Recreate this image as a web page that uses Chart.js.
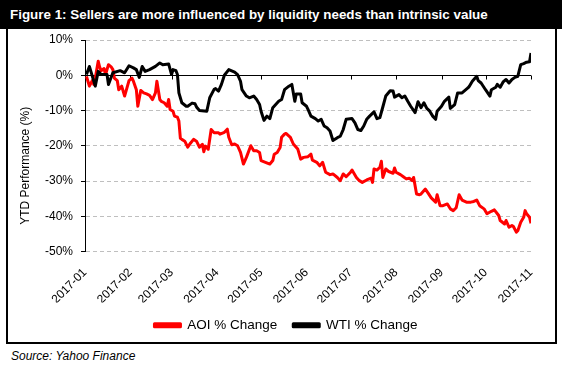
<!DOCTYPE html>
<html>
<head>
<meta charset="utf-8">
<script src="https://cdn.jsdelivr.net/npm/chart.js@4.4.0/dist/chart.umd.min.js"></script>
<style>
html,body{margin:0;padding:0;background:#fff;}
body{width:562px;height:366px;position:relative;overflow:hidden;font-family:"Liberation Sans",Arial,sans-serif;}
#title{position:absolute;left:0;top:0;width:562px;height:29px;background:#000;color:#fff;font-weight:bold;font-size:13.4px;line-height:29px;padding-left:10px;box-sizing:border-box;white-space:nowrap;}
#box{position:absolute;left:6px;top:28px;width:551px;height:316px;border:2px solid #000;border-top:none;box-sizing:border-box;}
#wrap{position:absolute;left:8px;top:29px;width:547px;height:313px;}
#src{position:absolute;left:11px;top:349px;font-style:italic;font-size:12px;color:#000;white-space:nowrap;}
</style>
</head>
<body>
<div id="title">Figure 1: Sellers are more influenced by liquidity needs than intrinsic value</div>
<div id="box"></div>
<div id="wrap"><canvas id="c" width="547" height="313" style="width:547px;height:313px"></canvas></div>
<div id="src">Source: Yahoo Finance</div>
<script>
// Tick labels (month starts)
const monthLabels = ['2017-01','2017-02','2017-03','2017-04','2017-05','2017-06','2017-07','2017-08','2017-09','2017-10','2017-11'];
const yAxisTitle = 'YTD Performance (%)';

// Days since 2017-01-01 and YTD % change
const aoiDays = [1,2,3,5,6,7,9,10,11,13,14,16,18,19,20,22,23,25,27,30,32,33,35,36,38,40,42,44,46,48,49,51,52,54,56,57,58,60,61,63,64,65,66,68,70,72,74,76,78,80,81,82,84,86,88,91,92,95,97,98,100,102,104,106,108,110,113,115,117,119,120,123,126,128,129,131,133,134,136,137,140,142,145,147,149,152,154,155,158,160,162,164,167,169,172,174,176,178,181,182,185,187,189,192,195,196,197,199,201,202,203,205,207,210,211,212,215,217,219,221,223,224,226,228,229,232,234,236,239,240,242,244,247,249,251,253,255,257,260,263,265,267,269,272,274,277,279,282,283,286,287,289,291,292,294,295,297,299,300,301,303,304];
const aoiPct = [-0.3,-1.7,-3.1,-1.5,-2.6,-0.8,4.0,2.3,1.3,1.9,0.2,3.0,2.3,1.6,-0.8,-1.5,-4.1,-3.1,-5.9,-1.5,-0.8,-1.7,-4.1,-8.8,-4.3,-5.0,-5.3,-5.7,-6.9,-5.0,-1.7,-6.9,-7.4,-7.8,-8.8,-6.9,-9.7,-10.2,-11.6,-11.9,-13.0,-17.9,-18.2,-18.7,-20.4,-19.2,-18.2,-18.7,-20.4,-19.6,-21.7,-20.1,-21.0,-15.4,-16.3,-16.3,-16.7,-16.2,-15.3,-17.6,-19.7,-19.5,-20.0,-21.9,-25.2,-23.3,-20.0,-21.4,-21.4,-21.9,-24.2,-24.7,-25.2,-24.2,-22.4,-21.9,-20.5,-17.6,-16.7,-16.5,-17.6,-19.5,-20.9,-23.8,-23.3,-23.1,-22.4,-24.1,-24.7,-25.7,-24.7,-27.5,-28.2,-28.0,-29.0,-29.9,-28.0,-28.8,-27.5,-26.9,-29.0,-29.9,-30.4,-29.7,-29.2,-30.4,-26.6,-26.9,-26.1,-24.4,-29.0,-26.6,-27.3,-27.8,-26.3,-27.5,-28.2,-28.8,-29.4,-29.2,-29.9,-29.0,-33.7,-33.9,-33.7,-32.3,-33.5,-34.8,-36.0,-33.9,-37.0,-37.0,-36.5,-37.9,-38.4,-37.6,-33.9,-35.4,-36.0,-36.0,-35.8,-35.4,-37.0,-37.9,-39.3,-38.6,-38.2,-39.8,-41.2,-42.2,-41.2,-43.1,-42.6,-42.9,-44.5,-44.1,-41.7,-40.3,-38.4,-39.3,-40.3,-42.0];

const wtiDays = [1,3,7,9,11,15,16,19,24,27,30,33,35,37,39,41,44,48,51,53,57,59,60,62,63,64,66,69,70,73,75,76,78,83,85,88,89,91,93,95,98,102,104,106,107,110,112,115,117,119,120,122,124,126,128,132,134,136,139,141,143,144,147,148,151,152,154,157,159,161,163,165,167,169,172,174,176,178,182,184,186,188,190,192,194,197,199,201,203,205,208,210,211,214,216,218,220,222,225,227,229,231,233,235,237,239,240,243,245,248,249,252,254,257,259,261,262,264,267,268,270,273,276,277,280,281,283,285,287,289,291,293,295,297,299,301,303,304];
const wtiPct = [0.2,2.5,-3.1,1.1,0.2,0.2,-2.6,0.7,1.3,0.7,2.7,2.1,1.6,-0.6,2.5,1.1,1.6,2.5,3.5,3.0,3.2,0.2,1.6,1.3,0.2,-5.0,-7.8,-8.8,-8.8,-7.9,-8.1,-9.0,-10.0,-10.2,-6.4,-4.0,-3.8,-4.5,-2.6,0.0,1.6,0.9,0.2,-1.7,-4.1,-5.9,-6.4,-5.9,-6.9,-8.3,-10.2,-12.8,-11.6,-12.3,-9.2,-7.4,-6.9,-4.1,-3.1,-2.6,-7.4,-5.3,-5.3,-7.8,-8.8,-9.7,-11.6,-12.3,-13.0,-12.5,-14.4,-14.9,-15.8,-18.5,-17.7,-17.3,-15.4,-12.5,-12.3,-13.5,-15.4,-15.7,-14.4,-12.5,-11.6,-10.4,-12.3,-12.0,-9.0,-5.9,-4.4,-4.5,-6.2,-5.5,-6.4,-5.9,-7.4,-8.8,-10.6,-7.5,-9.2,-7.8,-9.4,-10.2,-11.6,-12.5,-10.2,-8.8,-7.4,-6.2,-9.4,-8.3,-5.0,-5.0,-4.3,-3.6,-3.1,-1.7,-0.3,-1.5,-2.2,-4.1,-5.9,-4.1,-3.4,-2.6,-3.4,-1.9,-1.2,-2.2,-1.2,-0.6,-0.3,3.0,3.3,3.7,3.8,6.3];

const FONT = '"Liberation Sans", Arial, sans-serif';
Chart.defaults.font.family = FONT;
Chart.defaults.color = '#000';

const dayOf = s => Math.round((Date.UTC(+s.slice(0,4), +s.slice(5,7) - 1, 1) - Date.UTC(2017, 0, 1)) / 86400000);
const monthTicks = monthLabels.map(dayOf);

const decor = {
  id: 'decor',
  afterLayout(chart) {
    // centre the legend under the whole frame rather than only the plot
    const lg = chart.legend;
    if (lg) { lg.left = 9; lg.right = chart.width; }
  },
  beforeDatasetsDraw(chart) {
    const {ctx, chartArea, scales: {x, y}} = chart;
    const y0 = Math.round(y.getPixelForValue(0)) + 0.5;
    ctx.save();
    ctx.strokeStyle = '#000';
    ctx.lineWidth = 1;
    ctx.beginPath();
    ctx.moveTo(chartArea.left, y0);
    ctx.lineTo(chartArea.right, y0);
    x.ticks.forEach(t => {
      const px = Math.round(x.getPixelForValue(t.value)) + 0.5;
      ctx.moveTo(px, y0);
      ctx.lineTo(px, y0 + 4);
    });
    ctx.stroke();
    ctx.restore();
  },
  afterDraw(chart) {
    const {ctx, chartArea} = chart;
    ctx.save();
    ctx.fillStyle = '#000';
    ctx.font = '12px ' + FONT;
    ctx.textAlign = 'center';
    ctx.textBaseline = 'middle';
    ctx.translate(18, (chartArea.top + chartArea.bottom) / 2 + 20);
    ctx.rotate(-Math.PI / 2);
    ctx.fillText(yAxisTitle, 0, 0);
    ctx.restore();
  }
};

new Chart(document.getElementById('c'), {
  type: 'line',
  data: {
    datasets: [
      {
        label: 'AOI % Change',
        data: aoiDays.map((d, i) => ({x: d, y: aoiPct[i]})),
        borderColor: '#ff0000',
        backgroundColor: '#ff0000',
        borderWidth: 3,
        pointRadius: 0,
        tension: 0,
        borderJoinStyle: 'round',
        order: 1
      },
      {
        label: 'WTI % Change',
        data: wtiDays.map((d, i) => ({x: d, y: wtiPct[i]})),
        borderColor: '#000000',
        backgroundColor: '#000000',
        borderWidth: 3,
        pointRadius: 0,
        tension: 0,
        borderJoinStyle: 'round',
        order: 0
      }
    ]
  },
  options: {
    responsive: false,
    animation: false,
    devicePixelRatio: 1,
    layout: {padding: {top: 11, right: 24, left: 0, bottom: 0}},
    plugins: {
      tooltip: {enabled: false},
      legend: {
        position: 'bottom',
        labels: {
          boxWidth: 26,
          boxHeight: 3,
          padding: 16,
          color: '#000',
          font: {size: 13.5, family: FONT},
          sort: (a, b) => a.datasetIndex - b.datasetIndex
        }
      }
    },
    scales: {
      x: {
        type: 'linear',
        min: monthTicks[0],
        max: monthTicks[monthTicks.length - 1],
        afterBuildTicks: s => { s.ticks = monthTicks.map(v => ({value: v})); },
        afterFit: s => { s.height = 51; },
        ticks: {
          autoSkip: false,
          minRotation: 45,
          maxRotation: 45,
          padding: 6,
          color: '#000',
          font: {size: 12, family: FONT},
          callback: (v, i) => monthLabels[i]
        },
        grid: {display: false},
        border: {display: false}
      },
      y: {
        min: -50,
        max: 10,
        afterFit: s => { s.width = 77; s.paddingTop = 0; s.paddingBottom = 0; },
        ticks: {
          stepSize: 10,
          padding: 8,
          color: '#000',
          font: {size: 12, family: FONT},
          callback: v => v + '%'
        },
        grid: {
          color: c => (c.tick && c.tick.value === 0) ? 'rgba(0,0,0,0)' : '#bfbfbf',
          tickColor: '#000',
          tickLength: 4,
          lineWidth: 1,
          tickBorderDash: []
        },
        border: {display: true, color: '#000', width: 1, dash: [4, 3]}
      }
    }
  },
  plugins: [decor]
});
</script>
</body>
</html>
